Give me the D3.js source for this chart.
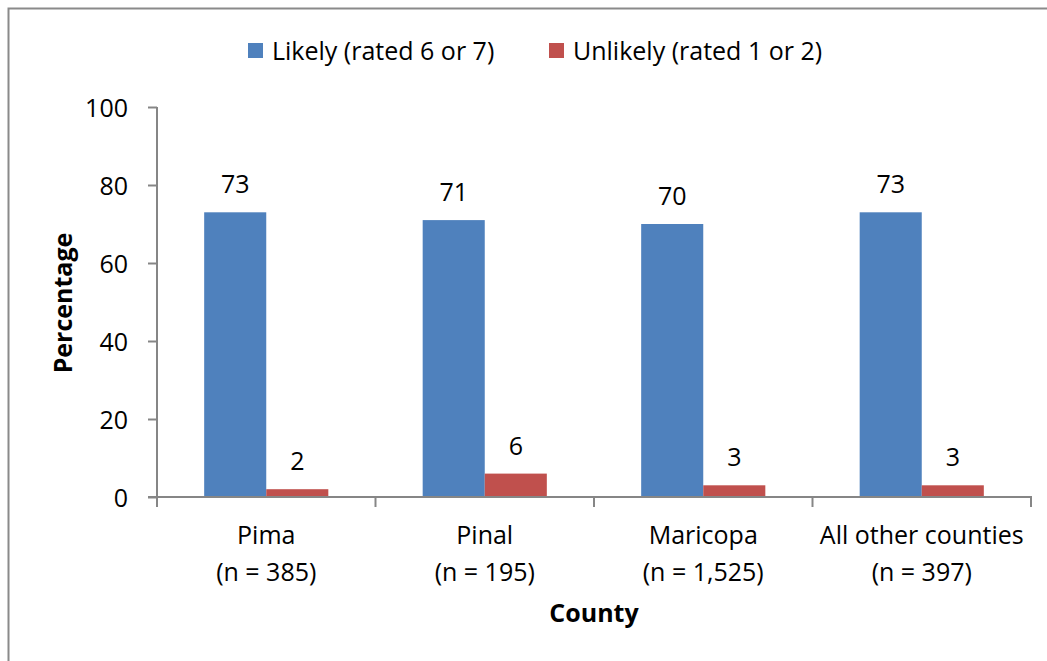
<!DOCTYPE html>
<html>
<head>
<meta charset="utf-8">
<script src="https://cdn.jsdelivr.net/npm/d3@7"></script>
<style>
  html, body { margin: 0; padding: 0; background: #fff; }
  svg { display: block; font-family: "Open Sans", Lato, sans-serif; }
</style>
</head>
<body>
<svg id="chart" width="1047" height="661"></svg>
<script>
// Survey results by county
const counties = ["Pima", "Pinal", "Maricopa", "All other counties"];
const sampleSizes = ["(n = 385)", "(n = 195)", "(n = 1,525)", "(n = 397)"];
const seriesNames = ["Likely (rated 6 or 7)", "Unlikely (rated 1 or 2)"];
const likely = [73, 71, 70, 73];
const unlikely = [2, 6, 3, 3];
const yTicks = [0, 20, 40, 60, 80, 100];
const colors = ["#4F81BD", "#C0504D"];

const FS = 25;
const svg = d3.select("#chart");
const W = 1047, H = 661;

// outer frame
svg.append("rect")
  .attr("x", 8.5).attr("y", 8.5)
  .attr("width", W + 20).attr("height", H + 20)
  .attr("fill", "#fff").attr("stroke", "#8a8a8a").attr("stroke-width", 2);

const x0 = d3.scaleBand().domain(counties).range([157, 1031]).paddingInner(0).paddingOuter(0);
const x1 = d3.scaleBand().domain([0, 1]).range([0, x0.bandwidth()]).paddingInner(0).paddingOuter(0.76);
const y = d3.scaleLinear().domain([0, 100]).range([497, 107]);

const series = [likely, unlikely];

// bars with value labels
const g = svg.append("g");
counties.forEach((c, i) => {
  series.forEach((vals, s) => {
    const v = vals[i];
    g.append("rect")
      .attr("x", x0(c) + x1(s))
      .attr("y", y(v))
      .attr("width", x1.bandwidth())
      .attr("height", y(0) - y(v))
      .attr("fill", colors[s]);
    g.append("text")
      .attr("x", x0(c) + x1(s) + x1.bandwidth() / 2)
      .attr("y", y(v) - 19)
      .attr("text-anchor", "middle")
      .attr("font-size", FS)
      .attr("fill", "#000")
      .text(v);
  });
});

// y axis
const yAxis = d3.axisLeft(y).tickValues(yTicks).tickSize(9).tickPadding(20);
const yg = svg.append("g").attr("transform", "translate(157,0)").call(yAxis);
yg.select(".domain").attr("stroke", "#868686").attr("stroke-width", 2).attr("d", "M0,107V497");
yg.selectAll(".tick line").attr("stroke", "#868686").attr("stroke-width", 2);
yg.selectAll(".tick text").attr("font-size", FS).attr("fill", "#000")
  .attr("font-family", "'Open Sans', Lato, sans-serif").attr("dy", "0.36em");

// x axis baseline and category separators
const xg = svg.append("g");
xg.append("line").attr("x1", 148).attr("x2", 1032).attr("y1", 497).attr("y2", 497)
  .attr("stroke", "#868686").attr("stroke-width", 2);
const bounds = counties.map(c => x0(c)).concat([x0.range()[1]]);
xg.selectAll("line.sep").data(bounds).enter().append("line")
  .attr("x1", d => d).attr("x2", d => d).attr("y1", 497).attr("y2", 507)
  .attr("stroke", "#868686").attr("stroke-width", 2);

counties.forEach((c, i) => {
  const cx = x0(c) + x0.bandwidth() / 2;
  xg.append("text").attr("x", cx).attr("y", 544).attr("text-anchor", "middle")
    .attr("font-size", FS).text(c);
  xg.append("text").attr("x", cx).attr("y", 581).attr("text-anchor", "middle")
    .attr("font-size", FS).text(sampleSizes[i]);
});

// axis titles
svg.append("text").attr("x", 594).attr("y", 622).attr("text-anchor", "middle")
  .attr("font-size", FS).attr("font-weight", "bold").text("County");
svg.append("text").attr("transform", "translate(72,303) rotate(-90)")
  .attr("text-anchor", "middle").attr("font-size", FS).attr("font-weight", "bold").text("Percentage");

// legend
const legendItems = [{ x: 248, name: seriesNames[0], color: colors[0] }, { x: 549, name: seriesNames[1], color: colors[1] }];
legendItems.forEach(d => {
  svg.append("rect").attr("x", d.x).attr("y", 43).attr("width", 15).attr("height", 15).attr("fill", d.color);
  svg.append("text").attr("x", d.x + 24).attr("y", 60).attr("font-size", FS).text(d.name);
});
</script>
</body>
</html>
